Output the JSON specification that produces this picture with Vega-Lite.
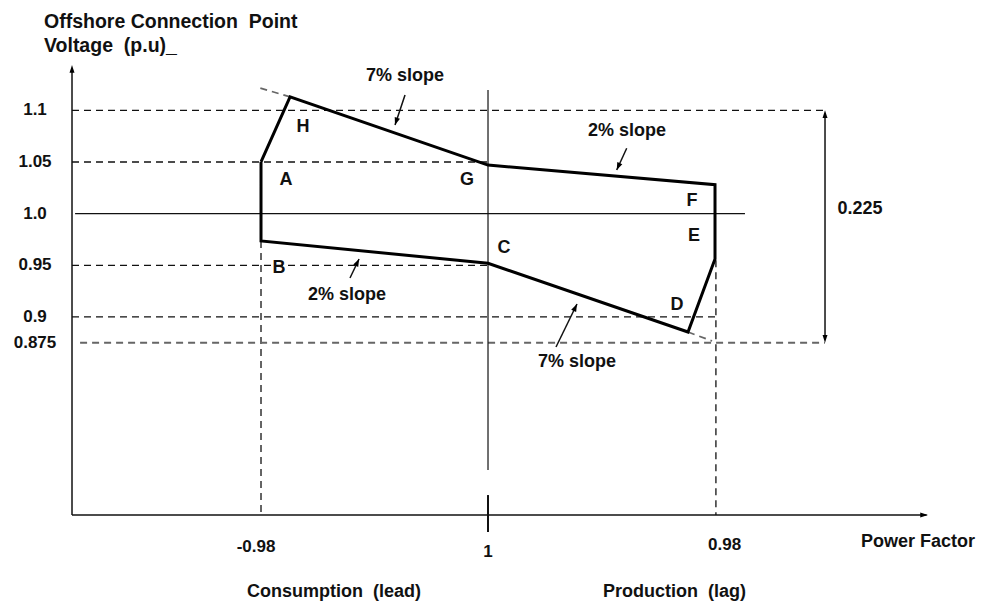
{
  "$schema": "https://vega.github.io/schema/vega-lite/v6.json",
  "width": 988,
  "height": 603,
  "autosize": {"type": "fit", "contains": "padding"},
  "padding": 0,
  "background": "white",
  "config": {"view": {"stroke": null}, "text": {"font": "Liberation Sans", "fontWeight": "bold", "color": "#111"}},
  "encoding": {
    "x": {"field": "x", "type": "quantitative", "scale": {"domain": [-2.1498, 2.2026], "nice": false, "zero": false}, "axis": null},
    "y": {"field": "y", "type": "quantitative", "scale": {"domain": [0.6231, 1.2068], "nice": false, "zero": false}, "axis": null}
  },
  "layer": [
    {
      "data": {"values": [
        {"x": -1.8326, "y": 1.1, "x2": 1.4846, "y2": 1.1},
        {"x": -1.8326, "y": 1.05, "x2": 0, "y2": 1.05},
        {"x": -1.8326, "y": 0.95, "x2": 0, "y2": 0.95},
        {"x": -1.8326, "y": 0.9, "x2": 1.004, "y2": 0.9},
        {"x": -1, "y": 0.9735, "x2": -1, "y2": 0.70828},
        {"x": 1.004, "y": 0.955, "x2": 1.004, "y2": 0.70828}
      ]},
      "mark": {"type": "rule", "color": "#111", "strokeWidth": 1.3, "strokeDash": [7, 5]},
      "encoding": {"x2": {"field": "x2"}, "y2": {"field": "y2"}}
    },
    {
      "data": {"values": [
        {"x": -1.797, "y": 0.875, "x2": 1.4846, "y2": 0.875},
        {"x": -0.872, "y": 1.113, "x2": -1.004, "y2": 1.1216},
        {"x": 0.881, "y": 0.8854, "x2": 0.987, "y2": 0.8767}
      ]},
      "mark": {"type": "rule", "color": "#666", "strokeWidth": 1.8, "strokeDash": [7, 5]},
      "encoding": {"x2": {"field": "x2"}, "y2": {"field": "y2"}}
    },
    {
      "data": {"values": [
        {"x": -1.8326, "y": 0.70828, "x2": -1.8326, "y2": 1.138},
        {"x": -1.8326, "y": 0.70828, "x2": 1.932, "y2": 0.70828},
        {"x": 1.4846, "y": 1.094, "x2": 1.4846, "y2": 0.881},
        {"x": -0.3656, "y": 1.1149, "x2": -0.4097, "y2": 1.0858},
        {"x": 0.611, "y": 1.0633, "x2": 0.567, "y2": 1.0423},
        {"x": -0.608, "y": 0.9377, "x2": -0.568, "y2": 0.9561},
        {"x": 0.2996, "y": 0.8709, "x2": 0.392, "y2": 0.9125}
      ]},
      "mark": {"type": "rule", "color": "#111", "strokeWidth": 1.5},
      "encoding": {"x2": {"field": "x2"}, "y2": {"field": "y2"}}
    },
    {
      "data": {"values": [
        {"x": -1.819, "y": 1.0, "x2": 1.132, "y2": 1.0},
        {"x": 0, "y": 0.7518, "x2": 0, "y2": 1.1197}
      ]},
      "mark": {"type": "rule", "color": "#111", "strokeWidth": 1.2},
      "encoding": {"x2": {"field": "x2"}, "y2": {"field": "y2"}}
    },
    {
      "data": {"values": [
        {"x": 0, "y": 0.6918, "x2": 0, "y2": 0.7276}
      ]},
      "mark": {"type": "rule", "color": "#111", "strokeWidth": 2},
      "encoding": {"x2": {"field": "x2"}, "y2": {"field": "y2"}}
    },
    {
      "data": {"values": [
        {"i": 0, "pt": "A", "x": -1, "y": 1.05},
        {"i": 1, "pt": "H", "x": -0.872, "y": 1.113},
        {"i": 2, "pt": "G", "x": 0, "y": 1.047},
        {"i": 3, "pt": "F", "x": 1, "y": 1.028},
        {"i": 4, "pt": "E", "x": 1, "y": 0.956},
        {"i": 5, "pt": "D", "x": 0.881, "y": 0.8854},
        {"i": 6, "pt": "C", "x": 0, "y": 0.952},
        {"i": 7, "pt": "B", "x": -1, "y": 0.9735},
        {"i": 8, "pt": "A", "x": -1, "y": 1.05}
      ]},
      "mark": {"type": "line", "color": "#000", "strokeWidth": 3, "strokeJoin": "miter"},
      "encoding": {"order": {"field": "i", "type": "quantitative"}}
    },
    {
      "data": {"values": [
        {"x": -1.8326, "y": 1.1439},
        {"x": 1.4846, "y": 1.1}
      ]},
      "mark": {"type": "point", "shape": "M0,0L-0.35,1.1L0.35,1.1Z", "filled": true, "color": "#000", "opacity": 1, "size": 200, "angle": 0}
    },
    {
      "data": {"values": [
        {"x": 1.4846, "y": 0.875}
      ]},
      "mark": {"type": "point", "shape": "M0,0L-0.35,1.1L0.35,1.1Z", "filled": true, "color": "#000", "opacity": 1, "size": 200, "angle": 180}
    },
    {
      "data": {"values": [
        {"x": 1.9383, "y": 0.70828}
      ]},
      "mark": {"type": "point", "shape": "M0,0L-0.35,1.1L0.35,1.1Z", "filled": true, "color": "#000", "opacity": 1, "size": 200, "angle": 90}
    },
    {
      "data": {"values": [
        {"x": -0.4097, "y": 1.0858}
      ]},
      "mark": {"type": "point", "shape": "M0,0L-0.4,1.1L0.4,1.1Z", "filled": true, "color": "#000", "opacity": 1, "size": 190, "angle": 198}
    },
    {
      "data": {"values": [
        {"x": 0.567, "y": 1.0423}
      ]},
      "mark": {"type": "point", "shape": "M0,0L-0.4,1.1L0.4,1.1Z", "filled": true, "color": "#000", "opacity": 1, "size": 190, "angle": 204}
    },
    {
      "data": {"values": [
        {"x": -0.568, "y": 0.9561},
        {"x": 0.392, "y": 0.9125}
      ]},
      "mark": {"type": "point", "shape": "M0,0L-0.4,1.1L0.4,1.1Z", "filled": true, "color": "#000", "opacity": 1, "size": 190, "angle": 26}
    },
    {
      "data": {"values": [
        {"x": -1.956, "y": 1.1855, "t": "Offshore Connection\u00a0\u00a0Point"},
        {"x": -1.956, "y": 1.1624, "t": "Voltage\u00a0\u00a0(p.u)_"}
      ]},
      "mark": {"type": "text", "fontSize": 19.5, "align": "left", "baseline": "middle"},
      "encoding": {"text": {"field": "t"}}
    },
    {
      "data": {"values": [
        {"x": -1.9956, "y": 1.1, "t": "1.1"},
        {"x": -1.9956, "y": 1.05, "t": "1.05"},
        {"x": -1.9956, "y": 1.0, "t": "1.0"},
        {"x": -1.9956, "y": 0.95, "t": "0.95"},
        {"x": -1.9956, "y": 0.9, "t": "0.9"},
        {"x": -1.9956, "y": 0.875, "t": "0.875"},
        {"x": -1.022, "y": 0.6773, "t": "-0.98"},
        {"x": 0, "y": 0.6727, "t": "1"},
        {"x": 1.042, "y": 0.6792, "t": "0.98"}
      ]},
      "mark": {"type": "text", "fontSize": 17, "align": "center", "baseline": "middle"},
      "encoding": {"text": {"field": "t"}}
    },
    {
      "data": {"values": [
        {"x": -0.678, "y": 0.6338, "t": "Consumption\u00a0\u00a0(lead)"},
        {"x": 0.8216, "y": 0.6338, "t": "Production\u00a0\u00a0(lag)"},
        {"x": 1.894, "y": 0.6821, "t": "Power Factor"},
        {"x": 1.639, "y": 1.0045, "t": "0.225"}
      ]},
      "mark": {"type": "text", "fontSize": 18, "align": "center", "baseline": "middle"},
      "encoding": {"text": {"field": "t"}}
    },
    {
      "data": {"values": [
        {"x": -0.3656, "y": 1.1333, "t": "7% slope"},
        {"x": 0.612, "y": 1.08, "t": "2% slope"},
        {"x": -0.621, "y": 0.9212, "t": "2% slope"},
        {"x": 0.392, "y": 0.8564, "t": "7% slope"}
      ]},
      "mark": {"type": "text", "fontSize": 18, "align": "center", "baseline": "middle"},
      "encoding": {"text": {"field": "t"}}
    },
    {
      "data": {"values": [
        {"x": -0.815, "y": 1.0839, "t": "H"},
        {"x": -0.89, "y": 1.0326, "t": "A"},
        {"x": -0.0925, "y": 1.0326, "t": "G"},
        {"x": 0.8987, "y": 1.0123, "t": "F"},
        {"x": 0.9075, "y": 0.9784, "t": "E"},
        {"x": 0.0705, "y": 0.9668, "t": "C"},
        {"x": -0.9207, "y": 0.9474, "t": "B"},
        {"x": 0.8326, "y": 0.9116, "t": "D"}
      ]},
      "mark": {"type": "text", "fontSize": 18, "align": "center", "baseline": "middle"},
      "encoding": {"text": {"field": "t"}}
    }
  ]
}
